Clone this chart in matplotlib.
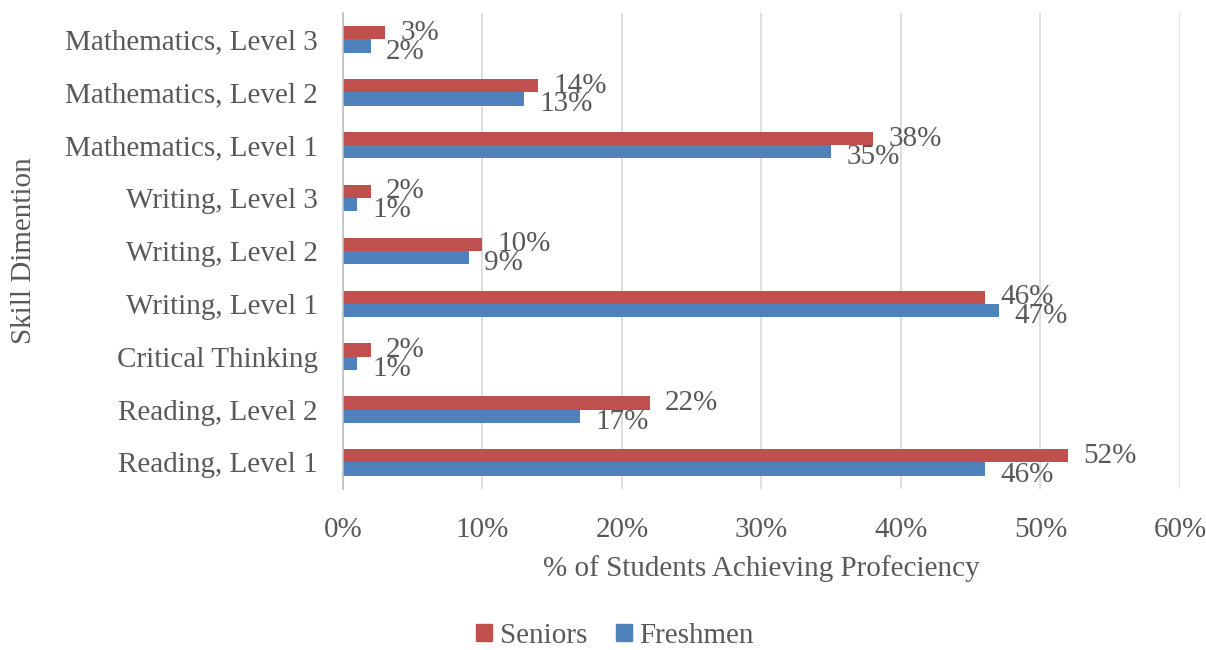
import numpy as np
import matplotlib.pyplot as plt
from matplotlib.patches import Patch

categories = ["Reading, Level 1", "Reading, Level 2", "Critical Thinking",
              "Writing, Level 1", "Writing, Level 2", "Writing, Level 3",
              "Mathematics, Level 1", "Mathematics, Level 2", "Mathematics, Level 3"]
seniors = [52, 22, 2, 46, 10, 2, 38, 14, 3]
freshmen = [46, 17, 1, 47, 9, 1, 35, 13, 2]
xticks = [0, 10, 20, 30, 40, 50, 60]

red = "#C0504D"
blue = "#4F81BD"
txt = "#595959"
fs = 21

plt.rcParams['font.family'] = ['Liberation Serif', 'DejaVu Serif']

fig = plt.figure(figsize=(12.06, 6.5), dpi=100)
ax = fig.add_axes([0.2844, 0.248, 0.694, 0.732])

y = np.arange(len(categories))
h = 0.25
ax.barh(y + h / 2, seniors, height=h, color=red, label="Seniors", zorder=3)
ax.barh(y - h / 2, freshmen, height=h, color=blue, label="Freshmen", zorder=3)

# data labels, Excel style
for yi, v in zip(y, seniors):
    ax.annotate(f"{v}%", (v, yi + h / 2), xytext=(11, 0), textcoords="offset points",
                va="center", ha="left", fontsize=fs, color=txt)
for yi, v in zip(y, freshmen):
    ax.annotate(f"{v}%", (v, yi - h / 2), xytext=(11, -4), textcoords="offset points",
                va="center", ha="left", fontsize=fs, color=txt)

ax.set_xlim(0, 60)
ax.set_ylim(-0.5, len(categories) - 0.5)
ax.set_xticks(xticks)
ax.set_xticklabels([f"{t}%" for t in xticks])
ax.set_yticks(y)
ax.set_yticklabels(categories)
ax.tick_params(axis="x", length=0, pad=20, labelsize=fs, colors=txt)
ax.tick_params(axis="y", length=0, pad=18, labelsize=fs, colors=txt)

ax.grid(axis="x", color="#D9D9D9", linewidth=1.2, zorder=0)
for s in ["top", "right", "bottom"]:
    ax.spines[s].set_visible(False)
ax.spines["left"].set_color("#BFBFBF")
ax.spines["left"].set_linewidth(1.2)
ax.spines["left"].set_zorder(4)

ax.set_xlabel("% of Students Achieving Profeciency", fontsize=fs, color=txt, labelpad=9)
fig.text(0.02, 0.615, "Skill Dimention", rotation=90, fontsize=fs, color=txt,
         va="center", ha="center")

handles = [Patch(color=red, label="Seniors"), Patch(color=blue, label="Freshmen")]
fig.legend(handles=handles, loc="center", bbox_to_anchor=(0.51, 0.022), ncol=2,
           frameon=False, fontsize=fs, labelcolor=txt, handlelength=0.55, handleheight=0.55,
           handletextpad=0.25, columnspacing=1.0)

fig.savefig("out.png", dpi=100)
